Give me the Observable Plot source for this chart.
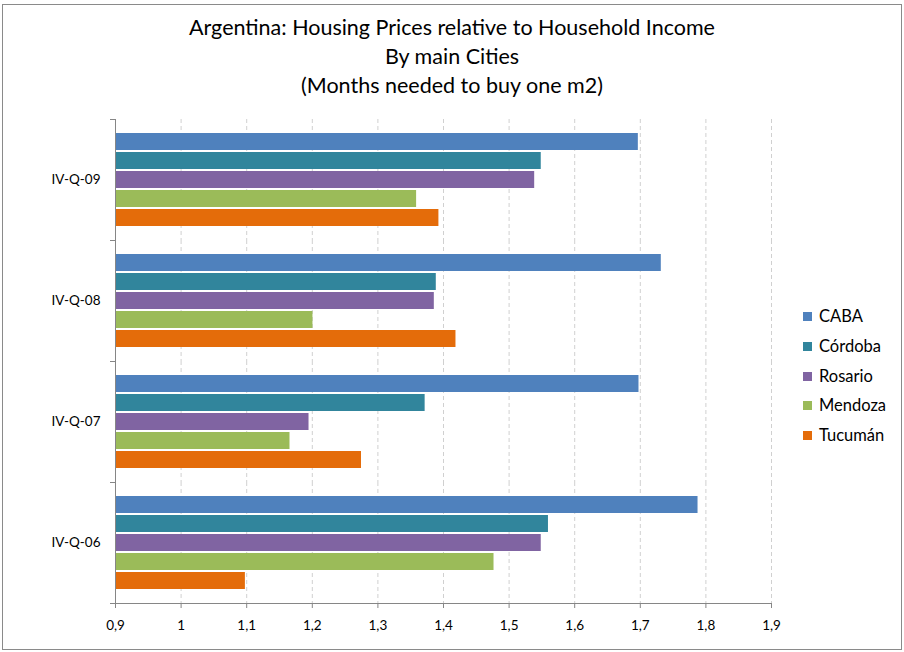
<!DOCTYPE html>
<html>
<head>
<meta charset="utf-8">
<script src="https://cdn.jsdelivr.net/npm/d3@7"></script>
<script src="https://cdn.jsdelivr.net/npm/@observablehq/plot@0.6"></script>
<style>
  body { margin: 0; background: #fff; }
  #wrap { position: relative; width: 904px; height: 652px; overflow: hidden; font-family: Lato, "Open Sans", sans-serif; }
  #border { position: absolute; left: 2px; top: 4px; width: 898px; height: 644px; border: 1px solid #8a8a8a; }
  #title { position: absolute; left: 0; top: 13px; width: 904px; text-align: center; font-size: 21.5px; line-height: 29px; color: #000; }
  #chart { position: absolute; left: 0; top: 100px; }
  #legend { position: absolute; left: 803px; top: 302px; font-size: 16.5px; color: #000; }
  #legend div { height: 29.8px; line-height: 28px; white-space: nowrap; }
  #legend span.sw { display: inline-block; width: 9px; height: 9px; margin-right: 7px; vertical-align: 1px; }
</style>
</head>
<body>
<div id="wrap">
  <div id="border"></div>
  <div id="title">Argentina: Housing Prices relative to Household Income<br>By main Cities<br>(Months needed to buy one m2)</div>
  <div id="chart"></div>
  <div id="legend"></div>
</div>
<script>
const quarters = ["IV-Q-09", "IV-Q-08", "IV-Q-07", "IV-Q-06"];
const cities = ["CABA", "Córdoba", "Rosario", "Mendoza", "Tucumán"];
const caba    = [1.697, 1.732, 1.698, 1.788];
const cordoba = [1.549, 1.389, 1.372, 1.560];
const rosario = [1.539, 1.386, 1.195, 1.549];
const mendoza = [1.359, 1.201, 1.166, 1.477];
const tucuman = [1.393, 1.419, 1.275, 1.098];
const cityColors = ["#4F81BD", "#31859C", "#8064A2", "#9BBB59", "#E46C0A"];
const xTicks = [0.9, 1.0, 1.1, 1.2, 1.3, 1.4, 1.5, 1.6, 1.7, 1.8, 1.9];
const xTickLabels = ["0,9", "1", "1,1", "1,2", "1,3", "1,4", "1,5", "1,6", "1,7", "1,8", "1,9"];
const xDomain = [0.9, 1.9];

const series = [caba, cordoba, rosario, mendoza, tucuman];
const data = [];
quarters.forEach((q, qi) => {
  cities.forEach((c, ci) => {
    data.push({quarter: q, city: c, value: series[ci][qi]});
  });
});

const axisGray = "#868686";
const plotW = 904 - 115 - 133;

const chart = Plot.plot({
  width: 904,
  height: 552,
  marginLeft: 115,
  marginRight: 133,
  marginTop: 17,
  marginBottom: 48,
  style: {fontFamily: "Lato, 'Open Sans', sans-serif", fontSize: "13.5px", color: "#000", background: "transparent"},
  x: {domain: xDomain, axis: null},
  y: {domain: cities, paddingInner: 0.1, paddingOuter: 0.62, axis: null},
  fy: {domain: quarters, padding: 0, axis: null},
  color: {domain: cities, range: cityColors},
  marks: [
    Plot.gridX(xTicks.slice(1), {stroke: "#d0d0d0", strokeOpacity: 1, strokeDasharray: "4,3"}),
    Plot.barX(data, {x1: () => xDomain[0], x2: "value", y: "city", fy: "quarter", fill: "city"}),
    Plot.ruleX([xDomain[0]], {stroke: axisGray}),
    Plot.frame({anchor: "top", stroke: axisGray, insetLeft: -5, insetRight: plotW}),
    Plot.frame({anchor: "bottom", stroke: axisGray, facetAnchor: "bottom", insetLeft: -5}),
    Plot.axisFy({anchor: "left", tickSize: 0, tickPadding: 15, label: null, fontSize: 13.5}),
    Plot.axisX({ticks: xTicks, tickFormat: (d, i) => xTickLabels[i], tickSize: 5, tickPadding: 12, stroke: axisGray, label: null, fontSize: 13.5})
  ]
});
document.getElementById("chart").appendChild(chart);

const legend = document.getElementById("legend");
cities.forEach((c, i) => {
  const row = document.createElement("div");
  const sw = document.createElement("span");
  sw.className = "sw";
  sw.style.background = cityColors[i];
  row.appendChild(sw);
  row.appendChild(document.createTextNode(c));
  legend.appendChild(row);
});
</script>
</body>
</html>
